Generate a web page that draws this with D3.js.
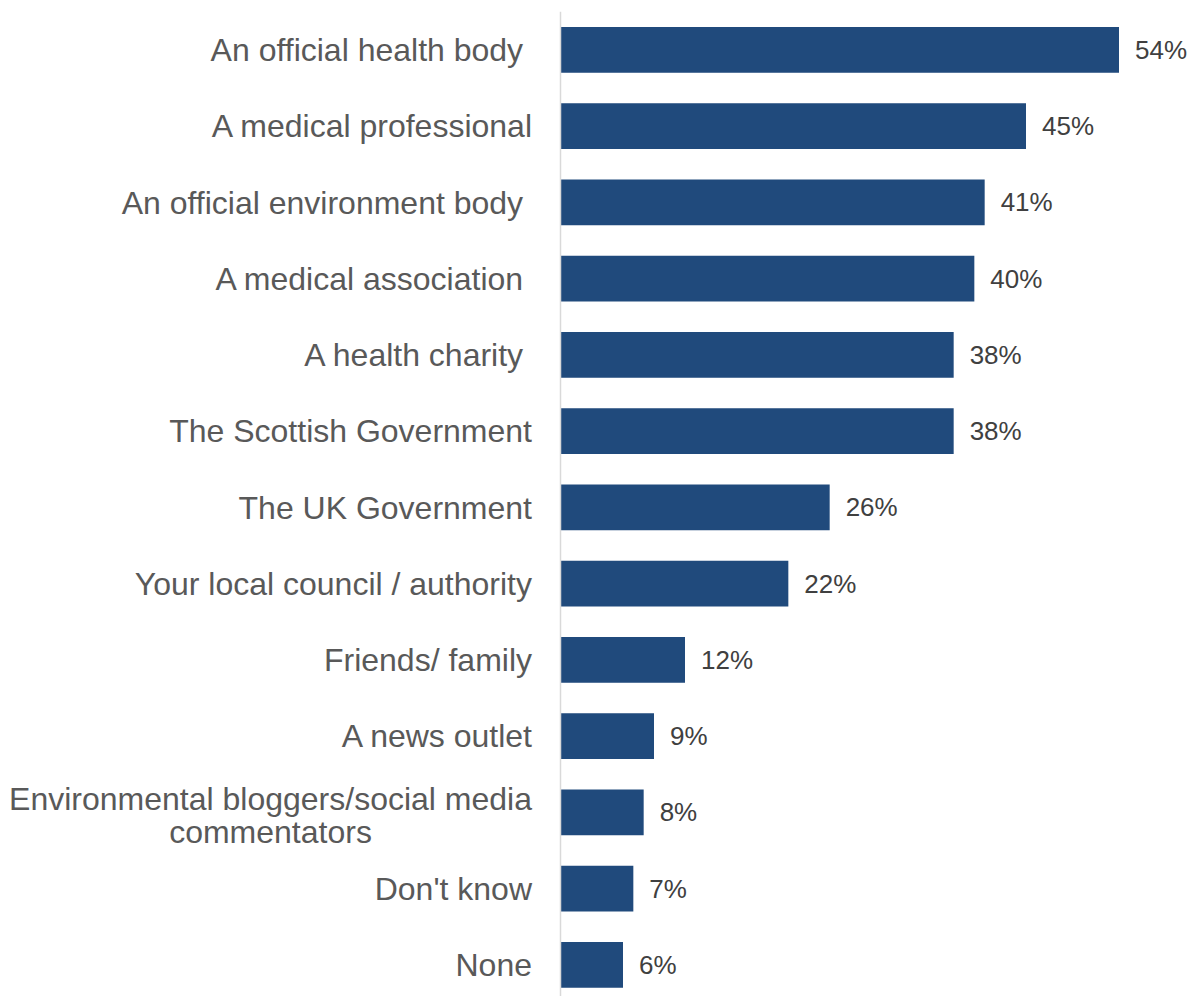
<!DOCTYPE html>
<html>
<head>
<meta charset="utf-8">
<script src="https://cdn.jsdelivr.net/npm/d3@7"></script>
<style>
  html, body { margin: 0; padding: 0; background: #ffffff; }
  svg { display: block; }
  text { font-family: "Liberation Sans", Arial, sans-serif; }
</style>
</head>
<body>
<svg id="chart" width="1191" height="996"></svg>
<script>
// Sources of information trusted (share of respondents)
const categories = [
  "An official health body ",
  "A medical professional",
  "An official environment body ",
  "A medical association ",
  "A health charity ",
  "The Scottish Government",
  "The UK Government",
  "Your local council / authority",
  "Friends/ family",
  "A news outlet",
  "Environmental bloggers/social media\ncommentators",
  "Don't know",
  "None"
];
const values = [54, 45, 41, 40, 38, 38, 26, 22, 12, 9, 8, 7, 6];
const valueLabels = values.map(v => v + "%");

const svg = d3.select("#chart");
const axisX = 560.5;
const labelRight = 532;

const x = d3.scaleLinear().domain([0, 54]).range([561, 1119]);
const y = d3.scaleBand()
  .domain(categories)
  .range([11.75, 1003])
  .paddingInner(0.4)
  .paddingOuter(0.2);

// Bars
svg.append("g")
  .selectAll("rect")
  .data(values)
  .join("rect")
  .attr("x", x(0))
  .attr("y", (d, i) => y(categories[i]))
  .attr("width", d => x(d) - x(0))
  .attr("height", y.bandwidth())
  .attr("fill", "#204a7c");

// Vertical category axis line
svg.append("line")
  .attr("x1", axisX).attr("x2", axisX)
  .attr("y1", y.range()[0]).attr("y2", y.range()[1])
  .attr("stroke", "#d9d9d9")
  .attr("stroke-width", 1.5);

// Category labels
const labelG = svg.append("g");
categories.forEach(cat => {
  const cy = y(cat) + y.bandwidth() / 2;
  const lines = cat.split("\n");
  if (lines.length === 1) {
    labelG.append("text")
      .attr("xml:space", "preserve")
      .attr("x", labelRight)
      .attr("y", cy)
      .attr("dy", "0.35em")
      .attr("text-anchor", "end")
      .attr("font-size", "32px")
      .attr("fill", "#595959")
      .text(cat);
  } else {
    const t = labelG.append("text")
      .attr("font-size", "32px")
      .attr("fill", "#595959")
      .attr("text-anchor", "middle");
    const lineH = 33;
    const spans = lines.map((ln, j) =>
      t.append("tspan")
        .attr("y", cy + (j - (lines.length - 1) / 2) * lineH + 3)
        .attr("dy", "0.35em")
        .text(ln));
    const maxW = d3.max(spans, s => s.node().getComputedTextLength());
    spans.forEach(s => s.attr("x", labelRight - maxW / 2));
  }
});

// Value labels
svg.append("g")
  .selectAll("text")
  .data(values)
  .join("text")
  .attr("x", d => x(d) + 16)
  .attr("y", (d, i) => y(categories[i]) + y.bandwidth() / 2)
  .attr("dy", "0.35em")
  .attr("font-size", "26px")
  .attr("fill", "#404040")
  .text((d, i) => valueLabels[i]);
</script>
</body>
</html>
